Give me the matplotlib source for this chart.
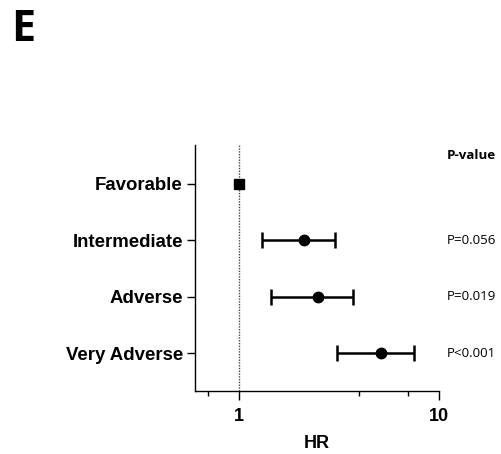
import numpy as np
import matplotlib
matplotlib.use("Agg")
import matplotlib.pyplot as plt
from matplotlib.ticker import FixedLocator, NullFormatter

# hazard ratios with 95% CI per risk group
groups = ["Favorable", "Intermediate", "Adverse", "Very Adverse"]
hr = [1.0, 2.11, 2.49, 5.11]
ci_low = [1.0, 1.31, 1.44, 3.08]
ci_high = [1.0, 3.03, 3.72, 7.51]
p_labels = ["", "P=0.056", "P=0.019", "P<0.001"]

plt.rcParams['font.family'] = ['Liberation Sans', 'DejaVu Sans']

fig = plt.figure(figsize=(5.02, 4.54), dpi=100)
ax = fig.add_axes([0.388, 0.139, 0.486, 0.5425])

y = np.arange(len(groups))
hr = np.array(hr)
err = np.vstack([hr - np.array(ci_low), np.array(ci_high) - hr])

# reference line at HR = 1
ax.axvline(1, color='#444444', lw=1.0, ls=(0, (1, 1)), zorder=1)

# reference group drawn as a square, others as circles with CI bars
ax.plot(hr[0], y[0], marker='s', ms=7.5, color='black', ls='none', zorder=3)
ax.errorbar(hr[1:], y[1:], xerr=err[:, 1:], fmt='o', ms=7.5, color='black',
            ecolor='black', elinewidth=1.8, capsize=5.5, capthick=1.8, zorder=3)

ax.set_xscale('log')
ax.set_xlim(0.6, 10)
ax.set_ylim(3.67, -0.69)
ax.xaxis.set_major_locator(FixedLocator([1, 10]))
ax.xaxis.set_minor_locator(FixedLocator([0.7, 4, 7]))
ax.xaxis.set_minor_formatter(NullFormatter())
ax.set_xticklabels(['1', '10'])
ax.set_yticks(y)
ax.set_yticklabels(groups)

for lab in ax.get_xticklabels():
    lab.set_fontweight('bold')
    lab.set_fontsize(13)
for lab in ax.get_yticklabels():
    lab.set_fontweight('bold')
    lab.set_fontsize(13.4)

ax.tick_params(axis='x', which='major', length=6.5, width=1.0, pad=6)
ax.tick_params(axis='x', which='minor', length=3.6, width=1.0)
ax.tick_params(axis='y', length=5.5, width=1.0, pad=3)

for side in ['top', 'right']:
    ax.spines[side].set_visible(False)
for side in ['left', 'bottom']:
    ax.spines[side].set_linewidth(1.0)

ax.set_xlabel('HR', fontsize=13, fontweight='bold', labelpad=7)

# p-value column to the right of the plot
ax.text(1.033, -0.50, 'P-value', transform=ax.get_yaxis_transform(),
        fontsize=9.6, fontweight='bold', family='Open Sans', va='center',
        ha='left', clip_on=False)
for yi, p in zip(y, p_labels):
    if p:
        ax.text(1.033, yi, p, transform=ax.get_yaxis_transform(),
                fontsize=9.6, family='Open Sans', va='center', ha='left',
                clip_on=False)

fig.text(0.022, 0.934, 'E', fontsize=31, fontweight='bold',
         family='Open Sans', va='center', ha='left')

fig.savefig('out.png', dpi=100)
